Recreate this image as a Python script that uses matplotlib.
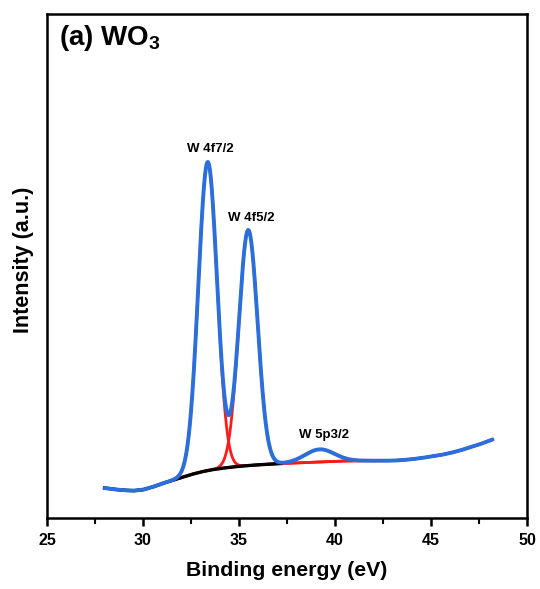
import numpy as np
import matplotlib
matplotlib.use("Agg")
import matplotlib.pyplot as plt

plt.rcParams['font.family'] = ['Liberation Sans', 'DejaVu Sans']

# Background (Shirley-type): binding energy (eV) vs intensity (a.u.)
bg_energy = [28.0, 28.5, 29.0, 29.5, 30.0, 30.5, 31.0, 31.5, 32.0, 32.5, 33.0, 33.5,
             34.0, 34.5, 35.0, 35.5, 36.0, 36.5, 37.0, 37.5, 38.0, 38.5, 39.0, 39.5,
             40.0, 40.5, 41.0, 41.5, 42.0, 42.5, 43.0, 43.5, 44.0, 44.5, 45.0, 45.5,
             46.0, 46.5, 47.0, 47.5, 48.0, 48.2]
bg_intensity = [30.0, 28.7, 27.8, 27.3, 28.3, 31.0, 34.5, 37.5, 40.5, 43.5, 46.0, 48.0,
                49.5, 50.7, 51.7, 52.5, 53.2, 53.8, 54.3, 54.7, 55.1, 55.5, 55.9, 56.3,
                56.7, 57.0, 57.2, 57.3, 57.3, 57.3, 57.4, 57.9, 58.8, 60.0, 61.5, 63.0,
                65.0, 67.5, 70.5, 73.5, 77.0, 78.5]

# Fitted peak components
peak_names = ["W 4f7/2", "W 4f5/2", "W 5p3/2"]
peak_centers = [33.37, 35.48, 39.2]
peak_heights = [308.5, 235.5, 12.6]
peak_fwhm = [1.15, 1.15, 1.8]
label_x = [33.49, 35.63, 39.43]
label_y = [369, 300, 83]

bg_end = 37.2  # black background drawn up to here

E = np.linspace(bg_energy[0], bg_energy[-1], 2000)
bg = np.interp(E, bg_energy, bg_intensity)

comps = []
for c, h, w in zip(peak_centers, peak_heights, peak_fwhm):
    s = w / (2 * np.sqrt(2 * np.log(2)))
    comps.append(h * np.exp(-0.5 * ((E - c) / s) ** 2))
envelope = bg + np.sum(comps, axis=0)

fig = plt.figure(figsize=(5.40, 5.89), dpi=100)
ax = fig.add_axes([0.087, 0.1205, 0.889, 0.8557])

red = '#ff1a1a'
blue = '#2a6fdb'
for comp in comps:
    ax.plot(E, bg + comp, color=red, lw=2.0, zorder=2)
mask = E <= bg_end
ax.plot(E[mask], bg[mask], color='black', lw=2.4, zorder=3)
ax.plot(E, envelope, color=blue, lw=2.8, zorder=4, solid_capstyle='round')

for name, x, y in zip(peak_names, label_x, label_y):
    ax.text(x, y, name, ha='center', va='center', fontsize=9.5, fontweight='bold')

ax.text(0.025, 0.952, r'(a) WO$_\mathregular{3}$', transform=ax.transAxes,
        ha='left', va='center', fontsize=20, fontweight='bold')

ax.set_xlim(25, 50)
ax.set_ylim(0, 504)
ax.set_xticks([25, 30, 35, 40, 45, 50])
ax.set_xticks([27.5, 32.5, 37.5, 42.5, 47.5], minor=True)
ax.set_yticks([])
ax.tick_params(axis='x', which='major', direction='out', length=6, width=1.8,
               labelsize=11.5, pad=5)
ax.tick_params(axis='x', which='minor', direction='out', length=4, width=1.5)
for lbl in ax.get_xticklabels():
    lbl.set_fontweight('bold')
for sp in ax.spines.values():
    sp.set_linewidth(1.8)

ax.set_xlabel('Binding energy (eV)', fontsize=15.3, fontweight='bold', labelpad=9)
ax.set_ylabel('Intensity (a.u.)', fontsize=15.5, fontweight='bold')
ax.yaxis.set_label_coords(-0.028, 0.512)

fig.savefig('out.png', dpi=100)
